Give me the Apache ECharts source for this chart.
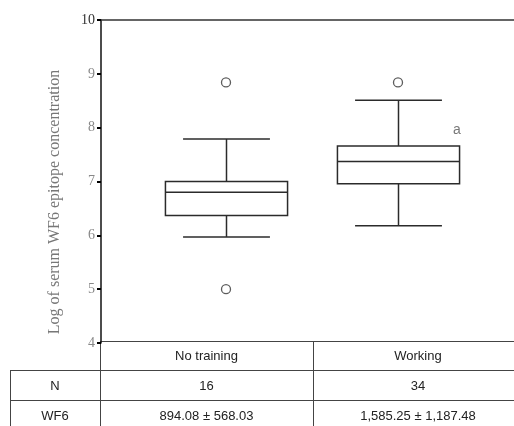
<!DOCTYPE html>
<html>
<head>
<meta charset="utf-8">
<script src="https://cdn.jsdelivr.net/npm/echarts@6/dist/echarts.min.js"></script>
<style>
  html, body { margin: 0; padding: 0; background: #fff; }
  #chart { width: 514px; height: 426px; }
</style>
</head>
<body>
<div id="chart"></div>
<script>
// Groups compared
const categories = ['No training', 'Working'];
// Box summaries: [low whisker, Q1, median, Q3, high whisker]
const boxStats = [
  [5.97, 6.37, 6.80, 7.00, 7.79],
  [6.18, 6.96, 7.37, 7.66, 8.51]
];
// Outlying observations: [group index, value]
const outliers = [[0, 8.84], [0, 5.00], [1, 8.84]];
// Significance mark placed beside the second box
const sigMarks = [[1, 7.96, 'a']];
// Y axis ticks
const yMin = 4, yMax = 10, yStep = 1;
const yTitle = 'Log of serum WF6 epitope concentration';
// Summary table under the plot
const rowLabels = ['N', 'WF6'];
const nValues = [16, 34];
const wf6Values = ['894.08 ± 568.03', '1,585.25 ± 1,187.48'];

const chart = echarts.init(document.getElementById('chart'));

const stroke = '#2b2b2b';
const serif = '"Liberation Serif", "DejaVu Serif", serif';
const sans = '"Liberation Sans", Arial, sans-serif';

// Table layout
const colX = [10, 100, 313, 523];
const rowY = [341, 370, 400, 430];
const lineStyle = { stroke: '#444', lineWidth: 1 };
const tableGraphics = [];
function hLine(x1, x2, y) {
  tableGraphics.push({ type: 'line', shape: { x1, y1: y + 0.5, x2, y2: y + 0.5 }, style: lineStyle, silent: true });
}
function vLine(x, y1, y2) {
  tableGraphics.push({ type: 'line', shape: { x1: x + 0.5, y1, x2: x + 0.5, y2 }, style: lineStyle, silent: true });
}
function cellText(text, c, r) {
  tableGraphics.push({
    type: 'text', silent: true,
    x: (colX[c] + colX[c + 1]) / 2, y: (rowY[r] + rowY[r + 1]) / 2 + 1,
    style: { text: String(text), font: '13px ' + sans, fill: '#222', align: 'center', verticalAlign: 'middle' }
  });
}
hLine(colX[1], 514, rowY[0]);
hLine(colX[0], 514, rowY[1]);
hLine(colX[0], 514, rowY[2]);
vLine(colX[1], rowY[0], 426);
vLine(colX[2], rowY[0], 426);
vLine(colX[0], rowY[1], 426);
categories.forEach((c, i) => cellText(c, i + 1, 0));
cellText(rowLabels[0], 0, 1);
cellText(rowLabels[1], 0, 2);
nValues.forEach((v, i) => cellText(v, i + 1, 1));
wf6Values.forEach((v, i) => cellText(v, i + 1, 2));

// Rotated y-axis title
tableGraphics.push({
  type: 'text', silent: true,
  x: 55, y: 202, rotation: Math.PI / 2,
  style: { text: yTitle, font: '16px ' + serif, fill: '#777', align: 'center', verticalAlign: 'middle' }
});

const option = {
  animation: false,
  backgroundColor: '#fff',
  grid: [
    { left: 101, right: 0, top: 20, bottom: 83 },
    { left: 140, right: 30, top: 20, bottom: 83 }
  ],
  xAxis: [
    {
      gridIndex: 0, type: 'value', position: 'top', min: 0, max: 1,
      axisLine: { show: true, lineStyle: { color: '#333', width: 1.5 } },
      axisTick: { show: false }, axisLabel: { show: false }, splitLine: { show: false }
    },
    {
      gridIndex: 1, type: 'category', data: categories,
      axisLine: { show: false }, axisTick: { show: false }, axisLabel: { show: false }, splitLine: { show: false }
    }
  ],
  yAxis: [
    {
      gridIndex: 0, type: 'value', min: yMin, max: yMax, interval: yStep,
      axisLine: { show: true, lineStyle: { color: '#111', width: 1.5 } },
      axisTick: { show: true, length: 4, lineStyle: { color: '#000', width: 2 } },
      axisLabel: {
        margin: 6, fontFamily: serif, fontSize: 14, color: '#888',
        formatter: v => (v === yMax ? '{top|' + v + '}' : String(v)),
        rich: { top: { fontFamily: serif, fontSize: 14, color: '#333' } }
      },
      splitLine: { show: false }
    },
    {
      gridIndex: 1, type: 'value', min: yMin, max: yMax, interval: yStep, show: false,
      splitLine: { show: false }
    }
  ],
  graphic: tableGraphics,
  series: [
    {
      type: 'custom',
      xAxisIndex: 1, yAxisIndex: 1,
      data: boxStats.map((s, i) => [i].concat(s)),
      encode: { x: 0, y: [1, 2, 3, 4, 5] },
      renderItem(params, api) {
        const idx = api.value(0);
        const low = api.coord([idx, api.value(1)]);
        const q1 = api.coord([idx, api.value(2)]);
        const med = api.coord([idx, api.value(3)]);
        const q3 = api.coord([idx, api.value(4)]);
        const high = api.coord([idx, api.value(5)]);
        const band = api.size([1, 0])[0];
        const bw = band * 0.71;
        const cw = band * 0.505;
        const cx = Math.round(low[0]) + 0.5;
        const st = { stroke, lineWidth: 1.5, fill: null };
        const ln = (x1, y1, x2, y2) => ({ type: 'line', shape: { x1, y1, x2, y2 }, style: st });
        return {
          type: 'group',
          children: [
            ln(cx, high[1], cx, q3[1]),
            ln(cx, q1[1], cx, low[1]),
            ln(cx - cw / 2, high[1], cx + cw / 2, high[1]),
            ln(cx - cw / 2, low[1], cx + cw / 2, low[1]),
            {
              type: 'rect',
              shape: { x: cx - bw / 2, y: q3[1], width: bw, height: q1[1] - q3[1] },
              style: { stroke, lineWidth: 1.5, fill: '#fff' }
            },
            ln(cx - bw / 2, med[1], cx + bw / 2, med[1])
          ]
        };
      }
    },
    {
      type: 'scatter',
      xAxisIndex: 1, yAxisIndex: 1,
      data: outliers,
      symbol: 'circle', symbolSize: 9,
      itemStyle: { color: '#fff', borderColor: '#333', borderWidth: 1.3 }
    },
    {
      type: 'scatter',
      xAxisIndex: 1, yAxisIndex: 1,
      data: sigMarks,
      symbolSize: 0,
      label: {
        show: true, position: 'inside', offset: [59, 0],
        formatter: p => p.value[2],
        fontFamily: sans, fontSize: 14, color: '#555'
      }
    }
  ]
};

chart.setOption(option);
</script>
</body>
</html>
